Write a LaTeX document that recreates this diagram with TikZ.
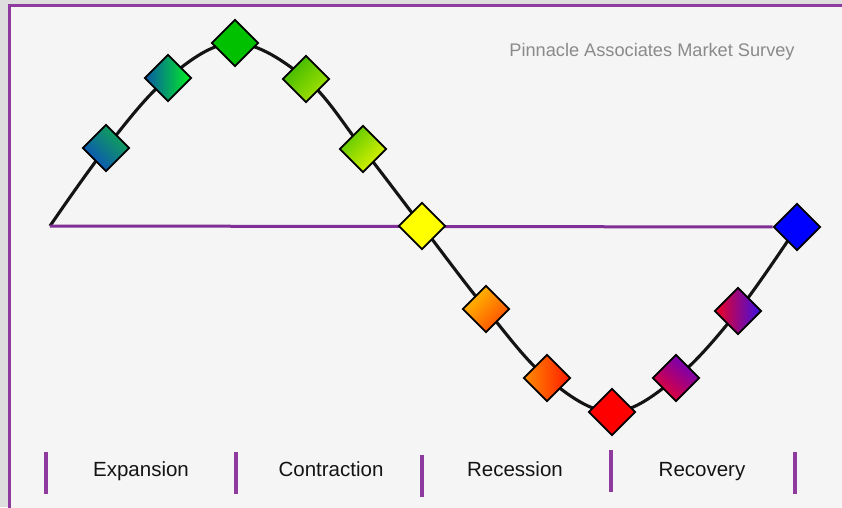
\documentclass[tikz,border=0pt]{standalone}
\usepackage{fontspec}
\setmainfont{Liberation Sans}
\usepackage{tikz}
\usetikzlibrary{positioning}
\usetikzlibrary{shapes.geometric}
\usetikzlibrary{backgrounds}
\definecolor{panelgray}{HTML}{F5F5F5}
\definecolor{outergray}{HTML}{DEDEDE}
\definecolor{zeropurple}{HTML}{7F2F96}
\definecolor{framepurple}{HTML}{8E3A9E}
\definecolor{titlegray}{HTML}{8A8A8A}
% marker colours, from blue through green, yellow, red and back to blue
\definecolor{seablue}{HTML}{0B4FBF}
\definecolor{seagreen}{HTML}{12A84E}
\definecolor{deepblue}{HTML}{0858A8}
\definecolor{neongreen}{HTML}{00F020}
\definecolor{leafgreen}{HTML}{00C000}
\definecolor{grassgreen}{HTML}{3CB800}
\definecolor{limegreen}{HTML}{A8E400}
\definecolor{springgreen}{HTML}{58C800}
\definecolor{lemonyellow}{HTML}{E4F400}
\definecolor{sunyellow}{HTML}{FFFF00}
\definecolor{amber}{HTML}{FFC000}
\definecolor{blood}{HTML}{FF4A00}
\definecolor{tangerine}{HTML}{FF8C00}
\definecolor{scarlet}{HTML}{FF1A00}
\definecolor{pure red}{HTML}{FF0000}
\definecolor{violet}{HTML}{6A00C0}
\definecolor{crimson}{HTML}{E80030}
\definecolor{rosered}{HTML}{F00020}
\definecolor{indigo}{HTML}{3A10E8}
\definecolor{pureblue}{HTML}{0000FF}
\tikzset {
  % diamond markers on the wave
  stage/.style = {draw=black, diamond, line width=1.7pt, minimum width=47pt, minimum height=47pt, inner sep=0pt},
  % the business cycle curve
  wave/.style = {line width=3.1pt, black!92},
  % zero line and phase separators
  zero/.style = {zeropurple, line width=3pt},
  bar/.style = {framepurple, line width=3.5pt},
  % phase names and title
  phase/.style = {font=\fontsize{20.5}{24}\selectfont, anchor=base, text=black!92},
  heading/.style = {font=\fontsize{18.2}{22}\selectfont, anchor=base, text=titlegray},
}

\begin{document}
\begin{tikzpicture}[x=1pt, y=-1pt]
        \useasboundingbox (0,0) rectangle (842,507);

        \node[stage, top color=seagreen, bottom color=seablue, shading angle=-45] (1) at (106,148) {};
        \node[stage, top color=neongreen, bottom color=deepblue, shading angle=-90] (2) at (168,78) {};
        \node[stage, fill=leafgreen] (3) at (235,43) {};
        \node[stage, top color=grassgreen, bottom color=limegreen, shading angle=45] (4) at (306,79) {};
        \node[stage, top color=springgreen, bottom color=lemonyellow, shading angle=45] (5) at (363,149) {};
        \node[stage, fill=sunyellow] (6) at (422,226) {};
        \node[stage, top color=amber, bottom color=blood, shading angle=45] (7) at (486,309) {};
        \node[stage, top color=tangerine, bottom color=scarlet, shading angle=90] (8) at (547,378) {};
        \node[stage, fill=pure red] (9) at (612,412) {};
        \node[stage, top color=violet, bottom color=crimson, shading angle=-40] (10) at (676,378) {};
        \node[stage, top color=rosered, bottom color=indigo, shading angle=90] (11) at (738,311) {};
        \node[stage, fill=pureblue] (12) at (797,227) {};
        \coordinate (s) at (50,226);

        \node[heading] (title) at (652,56) {Pinnacle Associates Market Survey};

        \node[phase] (exp) at (141,476) {Expansion};
        \node[phase] (con) at (331,476) {Contraction};
        \node[phase] (rec) at (515,476) {Recession};
        \node[phase] (recov) at (702,476) {Recovery};

        \draw[bar] (46,452) -- (46,494);
        \draw[bar] (236,452) -- (236,494);
        \draw[bar] (422,455) -- (422,497);
        \draw[bar] (611,450) -- (611,492);
        \draw[bar] (795,452) -- (795,494);

        \begin{pgfonlayer}{background}
          \fill[outergray] (0,0) rectangle (842,507);
          \draw[framepurple, line width=3pt, fill=panelgray] (9,5.5) rectangle (860,530);
          \draw[wave] plot[smooth, tension=0.6] coordinates {(s) (1.center) (2.center) (3.center) (4.center) (5.center) (6.center) (7.center) (8.center) (9.center) (10.center) (11.center) (12.center)};
          \draw[zero] (s) -- (12);
        \end{pgfonlayer}
      \end{tikzpicture}
\end{document}
